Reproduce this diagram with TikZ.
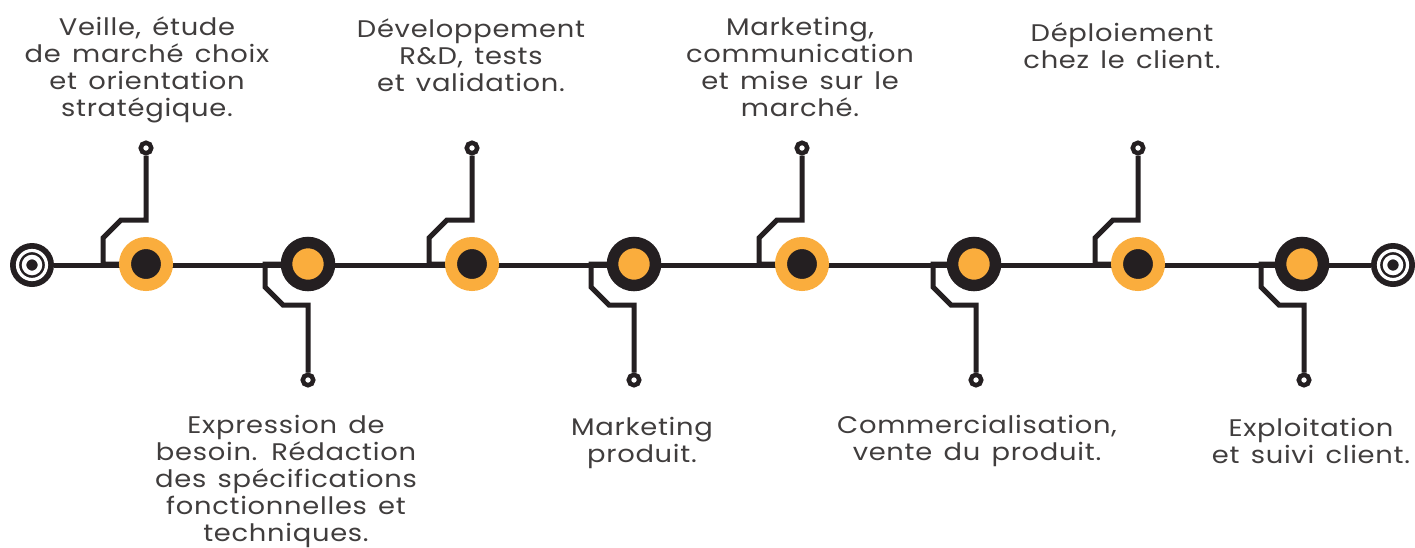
\documentclass[tikz,border=0pt]{standalone}
\usepackage{fontspec}
\setmainfont{Poppins}[FakeStretch=1.14, LetterSpace=3, WordSpace=1.4]
\usetikzlibrary{positioning, backgrounds}
\definecolor{Amber}{rgb}{0.98,0.68,0.24}
\definecolor{Ink}{rgb}{0.14,0.12,0.13}
\definecolor{Txt}{rgb}{0.25,0.24,0.24}
\tikzstyle{og}=[%
      circle, draw=Amber, line width=12pt, fill=Ink,
      minimum size=42pt, inner sep=0pt
]
\tikzstyle{bk}=[%
      circle, draw=Ink, line width=11.5pt, fill=Amber,
      minimum size=43pt, inner sep=0pt
]
\tikzstyle{pin}=[%
      circle, draw=Ink, line width=4.5pt, fill=white,
      minimum size=10.5pt, inner sep=0pt
]
\tikzstyle{tg}=[%
      circle, fill=Ink, minimum size=44pt, inner sep=0pt,
      path picture={
        \draw[white, line width=3.2pt] (path picture bounding box.center) circle (14.5pt);
        \draw[white, line width=4.5pt] (path picture bounding box.center) circle (8pt);
      }
]
\tikzstyle{wire}=[draw=Ink, line width=5pt]
\tikzstyle{tx}=[text=Txt, align=center, font=\fontsize{24}{27}\selectfont]

\begin{document}
\begin{tikzpicture}[x=1pt, y=-1pt]
    \useasboundingbox (0,0) rectangle (1415,547);

    % the two ends of the line
    \node[tg] (start) at (32,265) {};
    \node[tg] (end)   at (1393,265) {};

    % stations along the line
    \node[og] (c1) at (146,264) {};
    \node[bk] (c2) at (308,264) {};
    \node[og] (c3) at (472,264) {};
    \node[bk] (c4) at (634,264) {};
    \node[og] (c5) at (802,264) {};
    \node[bk] (c6) at (974,264) {};
    \node[og] (c7) at (1138,264) {};
    \node[bk] (c8) at (1302,264) {};

    % pins, above for odd stations, below for even ones
    \node[pin] (p1) at (146,148) {};
    \node[pin] (p2) at (308,380) {};
    \node[pin] (p3) at (472,148) {};
    \node[pin] (p4) at (634,380) {};
    \node[pin] (p5) at (802,148) {};
    \node[pin] (p6) at (976,380) {};
    \node[pin] (p7) at (1138,148) {};
    \node[pin] (p8) at (1304,380) {};

    \begin{scope}[on background layer]
      \draw[wire] (start) -- (end);
      \draw[wire] (p1) -- ++(0,72) -- ++(-25,0) -- ++(-18,18) |- (c1);
      \draw[wire] (p3) -- ++(0,72) -- ++(-25,0) -- ++(-18,18) |- (c3);
      \draw[wire] (p5) -- ++(0,72) -- ++(-25,0) -- ++(-18,18) |- (c5);
      \draw[wire] (p7) -- ++(0,72) -- ++(-25,0) -- ++(-18,18) |- (c7);
      \draw[wire] (p2) -- ++(0,-75) -- ++(-25,0) -- ++(-18,-18) |- (c2);
      \draw[wire] (p4) -- ++(0,-75) -- ++(-25,0) -- ++(-18,-18) |- (c4);
      \draw[wire] (p6) -- ++(0,-75) -- ++(-25,0) -- ++(-18,-18) |- (c6);
      \draw[wire] (p8) -- ++(0,-75) -- ++(-25,0) -- ++(-18,-18) |- (c8);
    \end{scope}

    % labels
    \node[tx] (t1) at (147,70)  {Veille, étude\\de marché choix\\et orientation\\stratégique.};
    \node[tx] (t3) at (471,55)  {Développement\\R\&D, tests\\et validation.};
    \node[tx] (t5) at (800,67)  {Marketing,\\communication\\et mise sur le\\marché.};
    \node[tx] (t7) at (1122,46) {Déploiement\\chez le client.};
    \node[tx] (t2) at (286,481) {Expression de\\besoin. Rédaction\\des spécifications\\fonctionnelles et\\techniques.};
    \node[tx] (t4) at (642,443) {Marketing\\produit.};
    \node[tx] (t6) at (977,441) {Commercialisation,\\vente du produit.};
    \node[tx] (t8) at (1311,441) {Exploitation\\et suivi client.};

\end{tikzpicture}
\end{document}
